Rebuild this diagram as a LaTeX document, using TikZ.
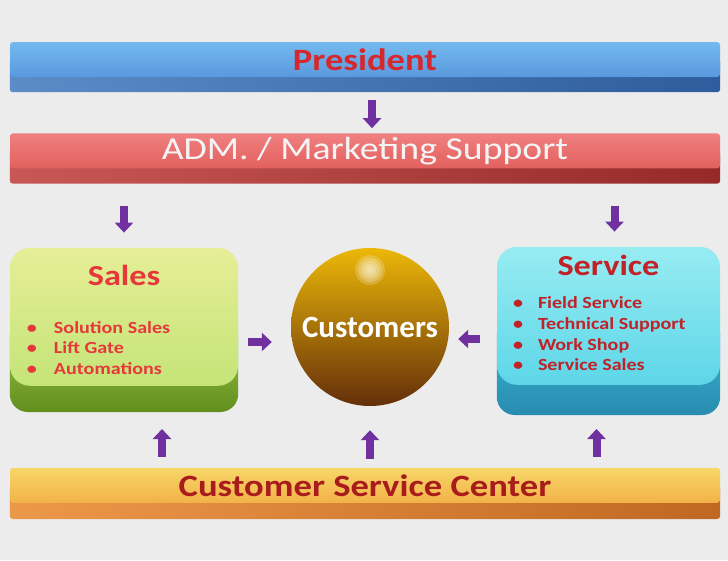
\documentclass[tikz,border=0pt]{standalone}
\usepackage{fontspec}
\setmainfont{Carlito}
\newfontfamily\widefont{Carlito}[FakeStretch=1.18]
\usepackage{tikz}
\usetikzlibrary{arrows.meta}
\usetikzlibrary{positioning}
\usetikzlibrary{backgrounds}

\definecolor{bgcol}{RGB}{236,236,236}
\definecolor{arrowcol}{RGB}{112,48,160}
\definecolor{presA}{RGB}{116,186,238}
\definecolor{presB}{RGB}{90,152,222}
\definecolor{presC}{RGB}{92,140,200}
\definecolor{presD}{RGB}{46,92,156}
\definecolor{presT}{RGB}{214,40,44}
\definecolor{admA}{RGB}{240,128,128}
\definecolor{admB}{RGB}{226,96,94}
\definecolor{admC}{RGB}{200,88,86}
\definecolor{admD}{RGB}{150,42,40}
\definecolor{admT}{RGB}{244,244,244}
\definecolor{cscA}{RGB}{248,214,104}
\definecolor{cscB}{RGB}{242,178,72}
\definecolor{cscC}{RGB}{236,152,74}
\definecolor{cscD}{RGB}{192,104,34}
\definecolor{cscT}{RGB}{168,28,28}
\definecolor{salesA}{RGB}{230,238,150}
\definecolor{salesB}{RGB}{196,228,120}
\definecolor{salesC}{RGB}{160,206,72}
\definecolor{salesD}{RGB}{98,142,30}
\definecolor{salesT}{RGB}{230,56,58}
\definecolor{servA}{RGB}{152,236,242}
\definecolor{servB}{RGB}{93,214,232}
\definecolor{servC}{RGB}{63,187,214}
\definecolor{servD}{RGB}{40,140,176}
\definecolor{servT}{RGB}{192,34,40}
\definecolor{custA}{RGB}{236,184,8}
\definecolor{custB}{RGB}{200,146,6}
\definecolor{custC}{RGB}{100,46,10}

\tikzset{
  bar/.style={rectangle, rounded corners=3pt, minimum width=710pt, minimum height=35pt, inner sep=0pt},
  box/.style={rectangle, rounded corners=20pt, minimum height=138pt, inner sep=0pt},
}

\begin{document}
\begin{tikzpicture}[x=1pt,y=-1pt,>={Triangle[length=10pt,width=18pt]}]
  \tikzstyle{flow}=[->,draw=arrowcol,line width=8pt]
  \tikzstyle{bold}=[font=\widefont\bfseries\fontsize{31}{36}\selectfont]
  \tikzstyle{plain}=[font=\widefont\fontsize{32}{36}\selectfont]
  \tikzstyle{head}=[font=\widefont\bfseries\fontsize{29}{34}\selectfont, inner sep=0pt]
  \tikzstyle{items}=[align=left, inner sep=0pt, font=\widefont\bfseries\fontsize{17}{20.7}\selectfont]
  \useasboundingbox (0,0) rectangle (728,560);

  % bars
  \node[bar, bold, top color=presA, bottom color=presB, text=presT] (pres) at (365,59.5) {President};
  \node[bar, plain, top color=admA, bottom color=admB, text=admT] (adm) [below=56pt of pres] {ADM. / Marketing Support};
  \node[bar, bold, top color=cscA, bottom color=cscB, text=cscT] (csc) [below=299pt of adm] {Customer Service Center};

  % boxes
  \node[box, minimum width=228pt, top color=salesA, bottom color=salesB] (sales) [below right=79pt and 0pt of adm.south west] {};
  \node[box, minimum width=223pt, top color=servA, bottom color=servB] (service) [below left=78pt and 0pt of adm.south east] {};
  \node[circle, minimum size=158pt, inner sep=0pt, top color=custA, middle color=custB, bottom color=custC,
        text=white, font=\bfseries\fontsize{31}{36}\selectfont,
        path picture={\foreach \r in {15,12,9,6,3}
          \fill[white, opacity=0.2] ([yshift=-22pt]path picture bounding box.north) circle (\r pt);}]
        (cust) at (370,327) {Customers};

  \node[head, text=salesT] (salesH) [below=17pt of sales.north] {Sales};
  \node[items, text=salesT, anchor=west] (salesL) at ([xshift=17pt,yshift=-31pt]sales.west)
    {\makebox[27pt][l]{\textbullet}Solution Sales\\ \makebox[27pt][l]{\textbullet}Lift Gate\\ \makebox[27pt][l]{\textbullet}Automations};
  \node[head, text=servT] (serviceH) [below=8pt of service.north] {Service};
  \node[items, text=servT, anchor=west] (serviceL) at ([xshift=16pt,yshift=-18pt]service.west)
    {\makebox[25pt][l]{\textbullet}Field Service\\ \makebox[25pt][l]{\textbullet}Technical Support\\ \makebox[25pt][l]{\textbullet}Work Shop\\ \makebox[25pt][l]{\textbullet}Service Sales};

  % arrows
  \draw[flow, shorten <=23pt, shorten >=5pt] ([xshift=7pt]pres.south) -- ([xshift=7pt]adm.north);
  \draw[flow, shorten <=37pt, shorten >=15pt] (adm.south -| sales) -- (sales.north);
  \draw[flow, shorten <=37pt, shorten >=15pt] ([xshift=6pt]adm.south -| service) -- ([xshift=6pt]service.north);
  \draw[flow, shorten <=10pt, shorten >=19pt] ([yshift=-15pt]cust.west -| sales.east) -- ([yshift=-15pt]cust.west);
  \draw[flow, shorten <=17pt, shorten >=9pt] ([yshift=-12pt]cust.east -| service.west) -- ([yshift=-12pt]cust.east);
  \draw[flow, shorten <=11pt, shorten >=43pt] ([xshift=38pt]csc.north -| sales) -- ([xshift=38pt]sales.south);
  \draw[flow, shorten <=9pt, shorten >=24pt] (csc.north -| cust) -- (cust.south);
  \draw[flow, shorten <=11pt, shorten >=44pt] ([xshift=-12pt]csc.north -| service) -- ([xshift=-12pt]service.south);

  \begin{scope}[on background layer]
    \fill[bgcol] (0,0) rectangle (728,560);
    \shade[rounded corners=3pt, left color=presC, right color=presD] (pres.west) rectangle ([yshift=-15pt]pres.south east);
    \shade[rounded corners=3pt, left color=admC, right color=admD] (adm.west) rectangle ([yshift=-15pt]adm.south east);
    \shade[rounded corners=3pt, left color=cscC, right color=cscD] (csc.west) rectangle ([yshift=-16pt]csc.south east);
    \shade[rounded corners=18pt, top color=salesC, bottom color=salesD] (sales.west) rectangle ([yshift=-26pt]sales.south east);
    \shade[rounded corners=18pt, top color=servC, bottom color=servD] (service.west) rectangle ([yshift=-30pt]service.south east);
  \end{scope}
\end{tikzpicture}
\end{document}
